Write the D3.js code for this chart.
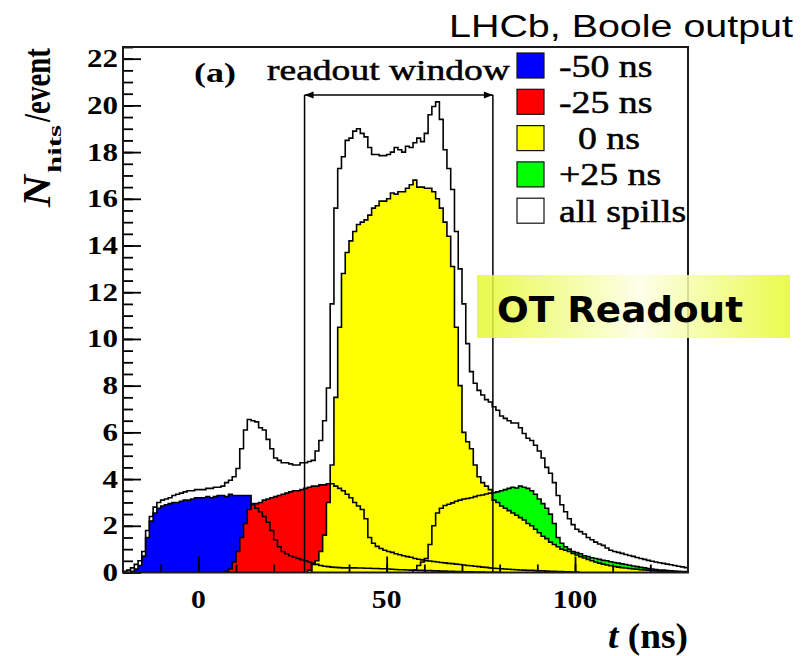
<!DOCTYPE html>
<html>
<head>
<meta charset="utf-8">
<script src="https://cdn.jsdelivr.net/npm/d3@7"></script>
<style>
  body { margin: 0; background: #fff; }
  svg { display: block; }
</style>
</head>
<body>
<div class="chart"></div>
<script>

// N_hits per event vs time, 1 ns bins; each spill array starts at its own t

const binWidth = 1;

// all spills (white)
const allStart = -20;
const allSpills = [
  0.05, 0.1, 0.2, 0.35, 0.5, 0.9, 1.8, 2.4, 2.8, 3.0,
  3.1, 3.15, 3.2, 3.3, 3.35, 3.4, 3.45, 3.5, 3.5, 3.55,
  3.55, 3.55, 3.6, 3.6, 3.65, 3.65, 3.7, 3.85, 3.95, 4.1,
  4.45, 5.3, 6.1, 6.55, 6.5, 6.45, 6.2, 6.1, 5.7, 5.3,
  4.9, 4.8, 4.7, 4.7, 4.65, 4.6, 4.6, 4.7, 4.7, 4.75,
  4.8, 5.2, 5.65, 6.5, 7.9, 11.5, 15.6, 17.3, 17.8, 18.5,
  18.6, 18.9, 19.0, 18.8, 18.65, 18.2, 17.9, 17.9, 17.85, 17.85,
  17.9, 18.0, 18.2, 18.1, 18.0, 18.25, 18.2, 18.4, 18.6, 18.45,
  18.8, 19.6, 19.95, 20.15, 19.4, 18.1, 17.3, 16.4, 14.6, 13.0,
  11.5, 9.8, 8.6, 8.1, 7.8, 7.6, 7.4, 7.3, 7.1, 6.95,
  6.7, 6.6, 6.5, 6.4, 6.4, 6.2, 5.95, 5.75, 5.65, 5.45,
  5.2, 4.9, 4.5, 4.25, 3.85, 3.3, 2.9, 2.6, 2.3, 2.05,
  1.85, 1.75, 1.65, 1.5, 1.4, 1.3, 1.22, 1.16, 1.05, 0.95,
  0.9, 0.86, 0.82, 0.77, 0.73, 0.69, 0.64, 0.6, 0.56, 0.52,
  0.48, 0.45, 0.42, 0.39, 0.36, 0.33, 0.3, 0.27, 0.24, 0.21
];

// -50 ns spill (blue)
const m50Start = -20;
const m50 = [
  0, 0, 0.05, 0.15, 0.3, 0.7, 1.5, 2.2, 2.55, 2.75,
  2.85, 2.9, 2.95, 3.0, 3.0, 3.05, 3.1, 3.1, 3.15, 3.2,
  3.2, 3.2, 3.25, 3.2, 3.25, 3.3, 3.3, 3.25, 3.35, 3.3,
  3.3, 3.3, 3.3, 3.3, 2.9, 2.75, 2.6, 2.4, 2.15, 1.8,
  1.4, 1.1, 0.9, 0.8, 0.72, 0.65, 0.6, 0.55, 0.5, 0.45,
  0.4, 0.35, 0.3, 0.27, 0.25, 0.23, 0.22, 0.21, 0.2, 0.2,
  0.2, 0.2, 0.19, 0.19, 0.18, 0.18, 0.17, 0.17, 0.16, 0.16,
  0.15, 0.14, 0.13, 0.12, 0.12, 0.11, 0.1, 0.1, 0.09, 0.09,
  0.08, 0.08, 0.07, 0.07, 0.06, 0.06, 0.05, 0.05, 0.04, 0.04,
  0.03, 0.03, 0.03, 0.02, 0.02, 0.02, 0.01, 0.01, 0.01, 0.01
];

// -25 ns spill (red)
const m25Start = 7;
const m25 = [
  0.05, 0.15, 0.45, 0.9, 1.5, 2.1, 2.7, 2.95, 2.95, 3.0,
  3.1, 3.15, 3.2, 3.25, 3.3, 3.35, 3.4, 3.45, 3.5, 3.5,
  3.55, 3.6, 3.65, 3.7, 3.7, 3.75, 3.75, 3.8, 3.8, 3.7,
  3.6, 3.5, 3.35, 3.2, 3.0, 2.85, 2.7, 2.3, 1.5, 1.25,
  1.12, 1.03, 0.95, 0.9, 0.86, 0.8, 0.76, 0.72, 0.68, 0.65,
  0.6, 0.57, 0.54, 0.51, 0.49, 0.47, 0.45, 0.43, 0.41, 0.39,
  0.38, 0.36, 0.34, 0.32, 0.3, 0.29, 0.27, 0.25, 0.23, 0.22,
  0.2, 0.18, 0.17, 0.16, 0.15, 0.14, 0.13, 0.12, 0.11, 0.1,
  0.09, 0.09, 0.08, 0.07, 0.07, 0.06, 0.05, 0.05, 0.04, 0.04,
  0.03, 0.03, 0.02, 0.02
];

// 0 ns spill (yellow)
const z0Start = 29;
const z0 = [
  0.1, 0.35, 0.5, 0.9, 1.6, 3.0, 4.6, 7.5, 10.5, 12.8,
  13.7, 14.2, 14.6, 14.9, 15.0, 15.1, 15.3, 15.6, 15.7, 15.9,
  15.9, 16.0, 16.25, 16.2, 16.3, 16.3, 16.45, 16.6, 16.8, 16.5,
  16.5, 16.45, 16.45, 16.3, 16.0, 15.6, 15.0, 14.4, 13.1, 10.5,
  8.0, 6.0, 5.6, 5.3, 4.6, 4.1, 3.85, 3.7, 3.55, 3.1,
  3.0, 2.85, 2.75, 2.65, 2.55, 2.45, 2.35, 2.25, 2.1, 2.0,
  1.85, 1.7, 1.55, 1.45, 1.3, 1.2, 1.1, 1.0, 0.95, 0.9,
  0.82, 0.75, 0.68, 0.62, 0.56, 0.5, 0.45, 0.4, 0.36, 0.32,
  0.29, 0.26, 0.23, 0.21, 0.19, 0.17, 0.15, 0.14, 0.12, 0.11,
  0.1, 0.08, 0.07, 0.06, 0.05, 0.04, 0.04, 0.03, 0.03, 0.02, 0.02
];

// +25 ns spill (green)
const p25Start = 57;
const p25 = [
  0.1, 0.3, 0.45, 0.6, 1.2, 2.0, 2.55, 2.75, 2.87, 2.92,
  2.98, 3.05, 3.1, 3.15, 3.17, 3.2, 3.25, 3.3, 3.32, 3.36,
  3.4, 3.42, 3.45, 3.5, 3.55, 3.6, 3.65, 3.62, 3.7, 3.65,
  3.6, 3.5, 3.35, 3.15, 2.95, 2.75, 2.5, 2.1, 1.5, 1.25,
  1.1, 1.0, 0.9, 0.85, 0.8, 0.72, 0.68, 0.63, 0.6, 0.56,
  0.52, 0.5, 0.46, 0.43, 0.4, 0.37, 0.34, 0.31, 0.28, 0.25,
  0.22, 0.2, 0.17, 0.15, 0.13, 0.11, 0.1, 0.08, 0.07, 0.06,
  0.05, 0.04, 0.04
];

const legendLabels = ["-50 ns", "-25 ns", "  0 ns", "+25 ns", "all spills"];
const legendColors = ["#0000ff", "#ff0000", "#ffff00", "#00ff00", "#ffffff"];

const yTicks = [0, 2, 4, 6, 8, 10, 12, 14, 16, 18, 20, 22];
const xTicks = [0, 50, 100];
const readoutWindow = [28.2, 78.2]; // ns
const readoutArrowY = 20.45;

// layout

const width = 811,
      height = 656;

const frame = { left: 123, right: 688, top: 47, bottom: 572.5 };
const serif = "Liberation Serif, Times New Roman, Times, serif";

let svg = d3.select(".chart")
            .append("svg")
            .attr("width", width)
            .attr("height", height);

const x = d3.scaleLinear().domain([-20, 130]).range([frame.left, frame.right]);
const y = d3.scaleLinear().domain([0, 22.5]).range([frame.bottom, frame.top]);

svg.append("clipPath")
   .attr("id", "frameClip")
   .append("rect")
   .attr("x", frame.left)
   .attr("y", frame.top)
   .attr("width", frame.right - frame.left)
   .attr("height", frame.bottom - frame.top);

// step histograms

const bins = (start, vals) =>
  vals.map((v, i) => ({ t: start + i * binWidth, v }))
      .concat([{ t: start + vals.length * binWidth, v: vals[vals.length - 1] }]);

const area = d3.area()
               .curve(d3.curveStepAfter)
               .x(d => x(d.t))
               .y0(y(0))
               .y1(d => y(d.v));

const line = d3.line()
               .curve(d3.curveStepAfter)
               .x(d => x(d.t))
               .y(d => y(d.v));

// fill order: all, +25, -50, -25, 0 ; outlines drawn afterwards
const spills = [
  { start: allStart, vals: allSpills, color: legendColors[4] },
  { start: p25Start, vals: p25, color: legendColors[3] },
  { start: m50Start, vals: m50, color: legendColors[0] },
  { start: m25Start, vals: m25, color: legendColors[1] },
  { start: z0Start, vals: z0, color: legendColors[2] }
];

const plot = svg.append("g").attr("clip-path", "url(#frameClip)");

plot.selectAll("path.fill")
    .data(spills)
    .enter()
      .append("path")
      .attr("class", "fill")
      .attr("fill", d => d.color)
      .attr("d", d => area(bins(d.start, d.vals)));

plot.selectAll("path.outline")
    .data(spills)
    .enter()
      .append("path")
      .attr("class", "outline")
      .attr("fill", "none")
      .attr("stroke", "#000")
      .attr("stroke-width", 1.6)
      .attr("d", d => {
        const b = bins(d.start, d.vals);
        return line([{ t: d.start, v: 0 }].concat(b, [{ t: b[b.length - 1].t, v: 0 }]));
      });

// readout window

const win = svg.append("g");
readoutWindow.forEach(t => {
  win.append("line")
     .attr("x1", x(t)).attr("x2", x(t))
     .attr("y1", y(readoutArrowY)).attr("y2", y(0))
     .attr("stroke", "#000").attr("stroke-width", 1.5);
});
win.append("line")
   .attr("x1", x(readoutWindow[0])).attr("x2", x(readoutWindow[1]))
   .attr("y1", y(readoutArrowY)).attr("y2", y(readoutArrowY))
   .attr("stroke", "#000").attr("stroke-width", 1.5);
[[readoutWindow[0], 1], [readoutWindow[1], -1]].forEach(([t, dir]) => {
  const ax = x(t), ay = y(readoutArrowY);
  win.append("path")
     .attr("d", `M${ax},${ay} L${ax + dir * 9},${ay - 3.5} L${ax + dir * 9},${ay + 3.5} Z`)
     .attr("fill", "#000");
});

// axes (ticks inside the frame, ROOT style)

const styleTicks = g => {
  g.select(".domain").remove();
  g.selectAll("line").attr("stroke", "#000").attr("stroke-width", 1.8);
};

svg.append("g")
   .attr("transform", `translate(0,${frame.bottom})`)
   .call(d3.axisTop(x).tickValues(d3.range(-10, 130, 10)).tickSize(8).tickFormat(""))
   .call(styleTicks);

svg.append("g")
   .attr("transform", `translate(0,${frame.bottom})`)
   .call(d3.axisTop(x).tickValues(xTicks).tickSize(16).tickFormat(""))
   .call(styleTicks);

svg.append("g")
   .attr("transform", `translate(${frame.left},0)`)
   .call(d3.axisRight(y).tickValues(d3.range(0, 22.6, 0.5)).tickSize(10).tickFormat(""))
   .call(styleTicks);

svg.append("g")
   .attr("transform", `translate(${frame.left},0)`)
   .call(d3.axisRight(y).tickValues(yTicks).tickSize(18).tickFormat(""))
   .call(styleTicks);

// frame
svg.append("rect")
   .attr("x", frame.left).attr("y", frame.top)
   .attr("width", frame.right - frame.left)
   .attr("height", frame.bottom - frame.top)
   .attr("fill", "none")
   .attr("stroke", "#1a1a1a")
   .attr("stroke-width", 2);

// text helpers: the picture is wider than normal type, so stretch horizontally

const stretch = (sel, k) => sel.each(function () {
  const len = this.getComputedTextLength();
  d3.select(this).attr("textLength", len * k).attr("lengthAdjust", "spacingAndGlyphs");
});

svg.append("g")
   .selectAll("text")
   .data(yTicks)
   .enter()
     .append("text")
     .attr("x", 118)
     .attr("y", d => y(d))
     .attr("dy", "0.34em")
     .attr("text-anchor", "end")
     .attr("font-family", serif)
     .attr("font-weight", "bold")
     .attr("font-size", 25)
     .text(d => d)
     .call(stretch, 1.24);

svg.append("g")
   .selectAll("text")
   .data(xTicks)
   .enter()
     .append("text")
     .attr("x", d => x(d))
     .attr("y", 608)
     .attr("text-anchor", "middle")
     .attr("font-family", serif)
     .attr("font-weight", "bold")
     .attr("font-size", 26)
     .text(d => d)
     .call(stretch, 1.14);

// y title: N_hits/event, rotated
const yTitle = [
  { text: "N", size: 34, style: "italic", base: 50, from: 207, len: 32, k: 1.2 },
  { text: "hits", size: 15, style: "normal", base: 61, from: 173, len: 48, k: 1.2 },
  { text: "/event", size: 31, style: "normal", base: 50, from: 122, len: 74, k: 1.25 }
];
svg.append("g")
   .selectAll("text")
   .data(yTitle)
   .enter()
     .append("text")
     .attr("transform", d => `translate(${d.base},${d.from}) rotate(-90) scale(1,${d.k})`)
     .attr("font-family", serif)
     .attr("font-weight", "bold")
     .attr("font-style", d => d.style)
     .attr("font-size", d => d.size)
     .attr("textLength", d => d.len)
     .attr("lengthAdjust", "spacingAndGlyphs")
     .text(d => d.text);

// x title
const xTitle = svg.append("text")
   .attr("x", 688)
   .attr("y", 648)
   .attr("text-anchor", "end")
   .attr("font-family", serif)
   .attr("font-weight", "bold")
   .attr("font-size", 36)
   .attr("textLength", 80)
   .attr("lengthAdjust", "spacingAndGlyphs");
xTitle.append("tspan").attr("font-style", "italic").text("t");
xTitle.append("tspan").text(" (ns)");

// panel label
svg.append("text")
   .attr("x", 194).attr("y", 82)
   .attr("font-family", serif)
   .attr("font-weight", "bold")
   .attr("font-size", 28)
   .attr("textLength", 42)
   .attr("lengthAdjust", "spacingAndGlyphs")
   .text("(a)");

svg.append("text")
   .attr("x", 267).attr("y", 80)
   .attr("font-family", serif)
   .attr("font-size", 29)
   .attr("stroke", "#000")
   .attr("stroke-width", 0.5)
   .attr("textLength", 243)
   .attr("lengthAdjust", "spacingAndGlyphs")
   .text("readout window");

// legend
const legend = svg.append("g")
                  .selectAll("g")
                  .data(legendLabels)
                  .enter()
                    .append("g")
                    .attr("transform", (d, i) => `translate(517,${53 + i * 36.3})`);

legend.append("rect")
      .attr("width", 27).attr("height", 25)
      .attr("fill", (d, i) => legendColors[i])
      .attr("stroke", "#111")
      .attr("stroke-width", 1.2);

legend.append("text")
      .attr("x", 42).attr("y", 23.5)
      .attr("xml:space", "preserve")
      .style("white-space", "pre")
      .attr("font-family", serif)
      .attr("font-size", 31)
      .attr("stroke", "#000")
      .attr("stroke-width", 0.5)
      .text(d => d)
      .call(stretch, 1.22);

// header
svg.append("text")
   .attr("x", 449).attr("y", 37)
   .attr("font-family", "Liberation Sans, Arial, sans-serif")
   .attr("font-size", 31)
   .attr("textLength", 344)
   .attr("lengthAdjust", "spacingAndGlyphs")
   .text("LHCb, Boole output");

// "OT Readout" banner
const grad = svg.append("defs")
                .append("linearGradient")
                .attr("id", "otGrad")
                .attr("x1", "0%").attr("x2", "100%")
                .attr("y1", "0%").attr("y2", "0%");
grad.append("stop").attr("offset", "0%").attr("stop-color", "#e4f92e");
grad.append("stop").attr("offset", "52%").attr("stop-color", "#fdffe6");
grad.append("stop").attr("offset", "100%").attr("stop-color", "#e6fb2c");

svg.append("rect")
   .attr("x", 477).attr("y", 275)
   .attr("width", 313).attr("height", 63)
   .attr("fill", "url(#otGrad)")
   .attr("fill-opacity", 0.85);

svg.append("text")
   .attr("x", 497).attr("y", 322)
   .attr("font-family", "DejaVu Sans, Verdana, sans-serif")
   .attr("font-weight", "bold")
   .attr("font-size", 36)
   .attr("textLength", 246)
   .attr("lengthAdjust", "spacingAndGlyphs")
   .text("OT Readout");

</script>
</body>
</html>
